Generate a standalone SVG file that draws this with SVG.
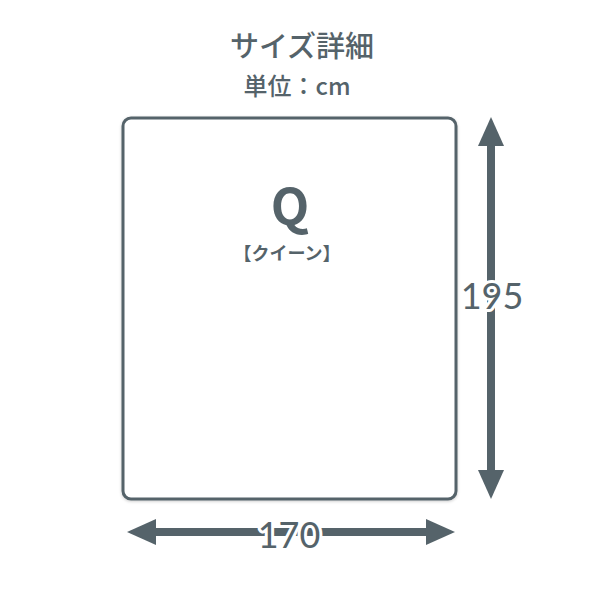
<svg xmlns="http://www.w3.org/2000/svg" width="600" height="600" viewBox="0 0 600 600">
<defs>
<style>
.c{fill:#55636a}
.t{font-family:"Noto Sans CJK JP","Noto Sans",sans-serif;fill:#55636a;text-anchor:middle}
.n{font-family:Lato,"Noto Sans",sans-serif;fill:#55636a;text-anchor:middle;stroke:#fff;stroke-width:6;stroke-linejoin:round;paint-order:stroke}
</style>
<filter id="sh" x="-5%" y="-5%" width="110%" height="110%"><feDropShadow dx="0" dy="1" stdDeviation="1.5" flood-color="#000" flood-opacity="0.2"/></filter>
</defs>
<rect width="600" height="600" fill="#fff"/>
<text class="t" x="302" y="57" font-size="29" font-weight="500">サイズ詳細</text>
<text class="t" x="297" y="95" font-size="24" font-weight="500">単位：cm</text>
<g id="bed">
<rect x="123" y="118" width="333" height="381" rx="8" fill="#fff" stroke="#55636a" stroke-width="3" filter="url(#sh)"/>
<text class="t" x="290" y="225" font-size="50" font-weight="700" font-family="Lato,'Noto Sans',sans-serif">Q</text>
<text class="t" x="287" y="260" font-size="18" font-weight="700">【クイーン】</text>
</g>
<g id="connectors">
<g id="vertical">
<rect x="487" y="140" width="8" height="338" class="c"/>
<polygon class="c" points="491,117 478,146 504,146"/>
<polygon class="c" points="491,499 478,470 504,470"/>
</g>
<g id="horizontal">
<rect x="150" y="528" width="282" height="8" class="c"/>
<polygon class="c" points="127,532 156,519 156,545"/>
<polygon class="c" points="455,532 426,519 426,545"/>
</g>
</g>
<text class="n" x="492" y="309" font-size="36">195</text>
<text class="n" x="289" y="548" font-size="36" font-family="'Liberation Serif',serif">170</text>
</svg>
